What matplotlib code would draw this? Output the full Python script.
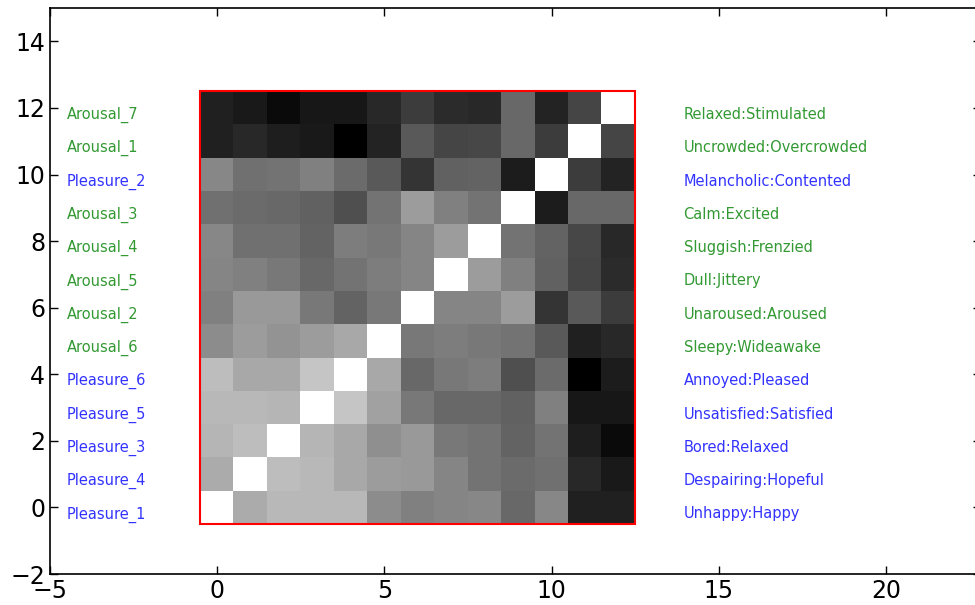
import numpy as np
import matplotlib
matplotlib.use('Agg')
import matplotlib.pyplot as plt


# scale names (left) and their adjective pairs (right), index 0 at the bottom
scales = ['Pleasure_1', 'Pleasure_4', 'Pleasure_3', 'Pleasure_5', 'Pleasure_6',
          'Arousal_6', 'Arousal_2', 'Arousal_5', 'Arousal_4', 'Arousal_3',
          'Pleasure_2', 'Arousal_1', 'Arousal_7']
pairs = ['Unhappy:Happy', 'Despairing:Hopeful', 'Bored:Relaxed',
         'Unsatisfied:Satisfied', 'Annoyed:Pleased', 'Sleepy:Wideawake',
         'Unaroused:Aroused', 'Dull:Jittery', 'Sluggish:Frenzied',
         'Calm:Excited', 'Melancholic:Contented', 'Uncrowded:Overcrowded',
         'Relaxed:Stimulated']

# similarity between scales, row 0 = Pleasure_1
sim = np.array([
    [1.00, 0.67, 0.72, 0.72, 0.72, 0.55, 0.50, 0.52, 0.53, 0.41, 0.53, 0.13, 0.13],
    [0.67, 1.00, 0.74, 0.72, 0.66, 0.61, 0.60, 0.52, 0.45, 0.42, 0.44, 0.16, 0.10],
    [0.71, 0.74, 1.00, 0.71, 0.66, 0.56, 0.60, 0.47, 0.45, 0.39, 0.45, 0.12, 0.04],
    [0.72, 0.72, 0.71, 1.00, 0.77, 0.63, 0.47, 0.41, 0.41, 0.38, 0.50, 0.09, 0.09],
    [0.74, 0.66, 0.66, 0.77, 1.00, 0.66, 0.41, 0.47, 0.49, 0.31, 0.42, 0.00, 0.11],
    [0.55, 0.61, 0.58, 0.61, 0.66, 1.00, 0.47, 0.49, 0.47, 0.45, 0.35, 0.13, 0.16],
    [0.50, 0.60, 0.60, 0.47, 0.39, 0.47, 1.00, 0.52, 0.52, 0.61, 0.21, 0.35, 0.24],
    [0.52, 0.50, 0.47, 0.41, 0.45, 0.49, 0.52, 1.00, 0.61, 0.50, 0.38, 0.27, 0.17],
    [0.53, 0.44, 0.44, 0.39, 0.49, 0.47, 0.52, 0.61, 1.00, 0.45, 0.39, 0.28, 0.16],
    [0.44, 0.42, 0.41, 0.38, 0.31, 0.45, 0.61, 0.50, 0.45, 1.00, 0.11, 0.41, 0.41],
    [0.53, 0.44, 0.45, 0.50, 0.42, 0.35, 0.21, 0.38, 0.39, 0.11, 1.00, 0.24, 0.14],
    [0.13, 0.16, 0.12, 0.10, 0.00, 0.14, 0.35, 0.27, 0.28, 0.41, 0.24, 1.00, 0.27],
    [0.13, 0.10, 0.04, 0.09, 0.09, 0.16, 0.24, 0.17, 0.16, 0.41, 0.14, 0.27, 1.00],
])


fig = plt.figure(figsize=(9.75, 6.05), dpi=100)
ax = fig.add_axes([0.0513, 0.0512, 0.955, 0.9355])

ax.imshow(sim, cmap='gray', vmin=0, vmax=1, interpolation='nearest',
          origin='lower')
ax.add_patch(plt.Rectangle((-0.5, -0.5), 13, 13, fill=False,
                           edgecolor='r', lw=1.5))

for i, (s, p) in enumerate(zip(scales, pairs)):
    c = 'g' if s.startswith('Arousal') else 'b'
    ax.text(-4.5, i + 0.03, s, color=c, alpha=0.8, fontsize=10.5, va='top')
    ax.text(13.95, i + 0.03, p, color=c, alpha=0.8, fontsize=10.5, va='top')

ax.set_xlim(-5, 22.85)
ax.set_ylim(-2, 15)
ax.set_aspect('auto')
ax.tick_params(direction='in', length=6, width=1, labelsize=17,
               top=True, right=True)
for sp in ax.spines.values():
    sp.set_linewidth(1.2)

fig.savefig('out.png', dpi=100)
